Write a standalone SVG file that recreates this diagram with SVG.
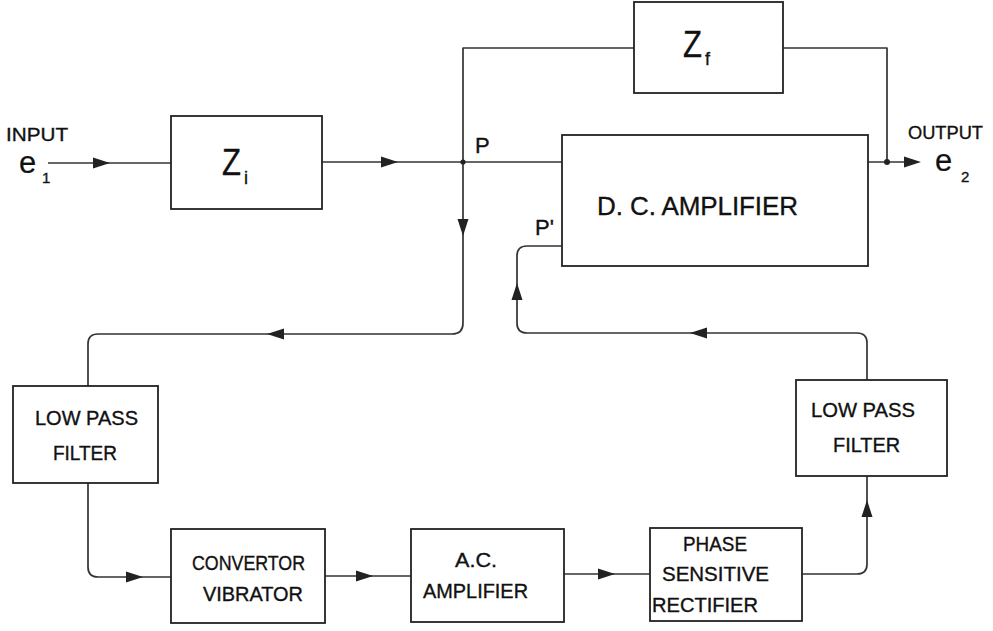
<svg xmlns="http://www.w3.org/2000/svg" xmlns:xlink="http://www.w3.org/1999/xlink" width="993" height="631" viewBox="0 0 993 631">
<style>
.box{fill:none;stroke:#222;stroke-width:1.8}
.con{fill:none;stroke:#333;stroke-width:1.7;stroke-linejoin:round}
.ah{fill:#222}
.dot{fill:#222}
text{font-family:"Liberation Sans",Arial,sans-serif;fill:#111;stroke:#111;stroke-width:0.35}
.lbl{font-size:20px}
.big{font-size:26px}
.sym{font-size:36px}
.sub{font-size:18px}
.ee{font-size:31px;stroke-width:0.2}
</style>
<defs>
<path id="ah" d="M0,0 L-17,-5.5 L-17,5.5 Z"/>
</defs>
<rect width="993" height="631" fill="#fff"/>

<g id="connectors">
<path class="con" d="M48,163 H171"/>
<path class="con" d="M322,162 H562"/>
<path class="con" d="M634,48 H463 V323 Q463,334 452,334 H98 Q88,334 88,344 V386"/>
<path class="con" d="M783,48 H887 V162"/>
<path class="con" d="M868,162 H906"/>
<path class="con" d="M88,483 V567 Q88,577 98,577 H171"/>
<path class="con" d="M325,576 H411"/>
<path class="con" d="M564,574 H650"/>
<path class="con" d="M802,574 H857 Q867,574 867,564 V476"/>
<path class="con" d="M867,380 V343 Q867,333 857,333 H527 Q517,333 517,323 V256 Q517,246 527,246 H562"/>
<circle class="dot" cx="463" cy="162" r="2.6"/>
<circle class="dot" cx="887" cy="162" r="3"/>
<use xlink:href="#ah" class="ah" transform="translate(110,163)"/>
<use xlink:href="#ah" class="ah" transform="translate(398,162)"/>
<use xlink:href="#ah" class="ah" transform="translate(463,236) rotate(90)"/>
<use xlink:href="#ah" class="ah" transform="translate(267,334) rotate(180)"/>
<use xlink:href="#ah" class="ah" transform="translate(143,577)"/>
<use xlink:href="#ah" class="ah" transform="translate(373,576)"/>
<use xlink:href="#ah" class="ah" transform="translate(615,574)"/>
<use xlink:href="#ah" class="ah" transform="translate(867,500) rotate(-90)"/>
<use xlink:href="#ah" class="ah" transform="translate(690,333) rotate(180)"/>
<use xlink:href="#ah" class="ah" transform="translate(517,283) rotate(-90)"/>
<use xlink:href="#ah" class="ah" transform="translate(921,162)"/>
</g>

<g id="input">
<text x="6" y="141" style="font-size:19px" textLength="62" lengthAdjust="spacingAndGlyphs">INPUT</text>
<text x="19" y="173" class="ee">e</text>
<text x="42" y="183" style="font-size:15px">1</text>
</g>

<g id="output">
<text x="908" y="139" style="font-size:18px" textLength="75" lengthAdjust="spacingAndGlyphs">OUTPUT</text>
<text x="935" y="171" class="ee">e</text>
<text x="961" y="182" style="font-size:15px">2</text>
</g>

<g id="zi">
<rect class="box" x="171" y="116" width="151" height="93"/>
<text x="222" y="175" class="sym" textLength="19" lengthAdjust="spacingAndGlyphs">Z</text>
<text x="244" y="184" class="sub">i</text>
</g>

<g id="zf">
<rect class="box" x="634" y="2" width="149" height="91"/>
<text x="683" y="57" class="sym" textLength="19" lengthAdjust="spacingAndGlyphs">Z</text>
<text x="705" y="65" class="sub">f</text>
</g>

<g id="labels-p">
<text x="475" y="153" style="font-size:22px">P</text>
<text x="535" y="235" style="font-size:22px">P'</text>
</g>

<g id="dc-amplifier">
<rect class="box" x="562" y="135" width="306" height="131"/>
<text x="597" y="215" class="big" textLength="201">D. C. AMPLIFIER</text>
</g>

<g id="lpf-left">
<rect class="box" x="13" y="386" width="145" height="97"/>
<text x="35" y="425" class="lbl" textLength="103" lengthAdjust="spacingAndGlyphs">LOW PASS</text>
<text x="53" y="460" class="lbl" textLength="64" lengthAdjust="spacingAndGlyphs">FILTER</text>
</g>

<g id="lpf-right">
<rect class="box" x="796" y="380" width="151" height="96"/>
<text x="811" y="417" class="lbl" textLength="104" lengthAdjust="spacingAndGlyphs">LOW PASS</text>
<text x="833" y="452" class="lbl" textLength="67" lengthAdjust="spacingAndGlyphs">FILTER</text>
</g>

<g id="convertor">
<rect class="box" x="171" y="529" width="154" height="94"/>
<text x="192" y="570" class="lbl" textLength="113" lengthAdjust="spacingAndGlyphs">CONVERTOR</text>
<text x="203" y="601" class="lbl" textLength="100" lengthAdjust="spacingAndGlyphs">VIBRATOR</text>
</g>

<g id="ac-amplifier">
<rect class="box" x="411" y="529" width="153" height="93"/>
<text x="455" y="567" class="lbl" textLength="42" lengthAdjust="spacingAndGlyphs">A.C.</text>
<text x="423" y="598" class="lbl" textLength="105" lengthAdjust="spacingAndGlyphs">AMPLIFIER</text>
</g>

<g id="phase-rectifier">
<rect class="box" x="650" y="528" width="152" height="93"/>
<text x="683" y="551" class="lbl" textLength="64" lengthAdjust="spacingAndGlyphs">PHASE</text>
<text x="662" y="581" class="lbl" textLength="107" lengthAdjust="spacingAndGlyphs">SENSITIVE</text>
<text x="652" y="612" class="lbl" textLength="106" lengthAdjust="spacingAndGlyphs">RECTIFIER</text>
</g>
</svg>
